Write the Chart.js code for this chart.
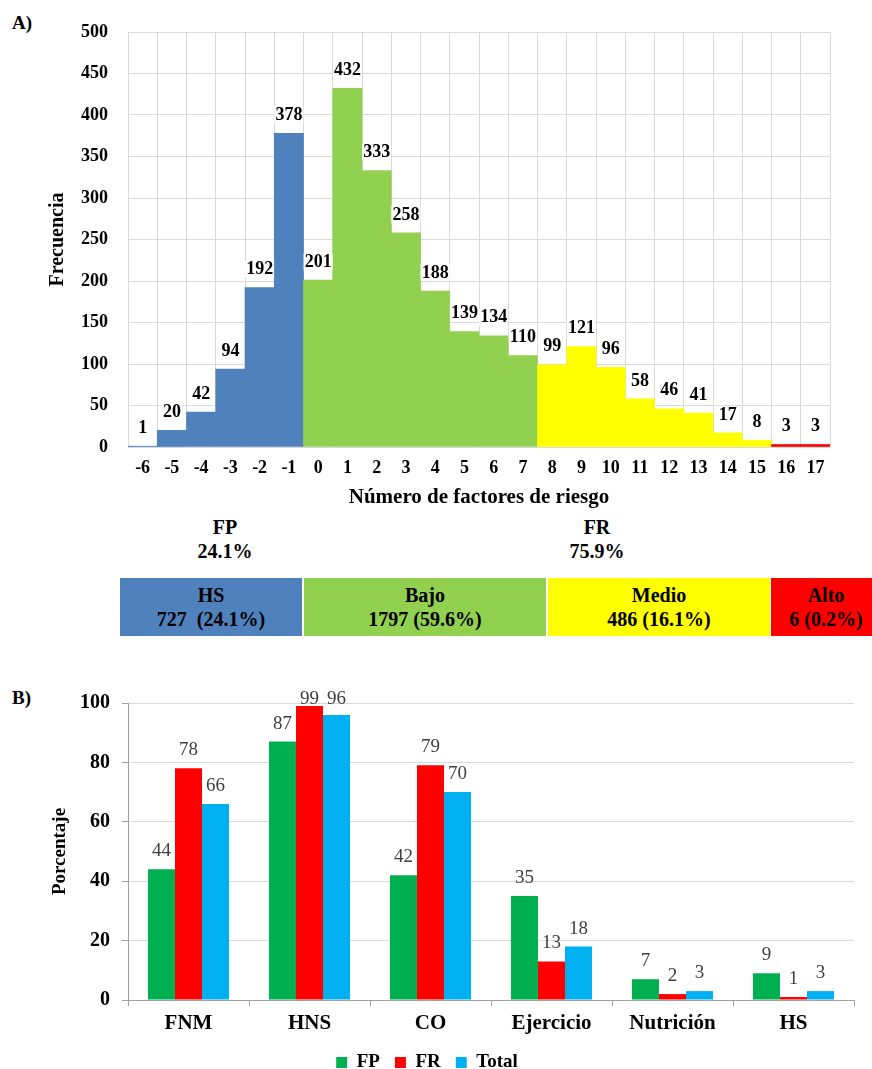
<!DOCTYPE html>
<html lang="es">
<head>
<meta charset="utf-8">
<title>Factores de riesgo</title>
<script src="https://cdn.jsdelivr.net/npm/chart.js@4.4.1/dist/chart.umd.min.js"></script>
<style>
  html, body { margin: 0; padding: 0; background: #fff; }
  #page { position: relative; width: 872px; height: 1069px; overflow: hidden; background: #fff;
          font-family: "Liberation Serif", "Times New Roman", serif; color: #000; }
  .tag { position: absolute; font-weight: bold; font-size: 19px; line-height: 1; }
  canvas { position: absolute; left: 0; }
  .grp { position: absolute; width: 160px; text-align: center; font-weight: bold; font-size: 20px; line-height: 24px; }
  .box { position: absolute; top: 578px; height: 58px; box-sizing: border-box; text-align: center;
         font-weight: bold; font-size: 20px; line-height: 24px; padding-top: 5px; white-space: pre; }
</style>
</head>
<body>
<div id="page">
  <div class="tag" style="left:12px; top:13px;">A)</div>
  <canvas id="histo" width="872" height="510" style="top:0;"></canvas>

  <div class="grp" style="left:145px; top:515px;">FP<br>24.1%</div>
  <div class="grp" style="left:517px; top:515px;">FR<br>75.9%</div>
  <div id="band"></div>

  <div class="tag" style="left:12px; top:688px;">B)</div>
  <canvas id="bars" width="872" height="432" style="top:650px;"></canvas>
</div>

<script>
// Frequency of the number of risk factors (protective factors count negative)
const factors = ['-6','-5','-4','-3','-2','-1','0','1','2','3','4','5','6','7','8','9','10','11','12','13','14','15','16','17'];
const frequency = [1, 20, 42, 94, 192, 378, 201, 432, 333, 258, 188, 139, 134, 110, 99, 121, 96, 58, 46, 41, 17, 8, 3, 3];

// Risk level groups shown in the band under the histogram
const levelNames = ['HS', 'Bajo', 'Medio', 'Alto'];
const levelText = ['727  (24.1%)', '1797 (59.6%)', '486 (16.1%)', '6 (0.2%)'];

// Percentage of each factor by group
const categories = ['FNM', 'HNS', 'CO', 'Ejercicio', 'Nutrición', 'HS'];
const fpValues = [44, 87, 42, 35, 7, 9];
const frValues = [78, 99, 79, 13, 2, 1];
const totalValues = [66, 96, 70, 18, 3, 3];

const SERIF = '"Liberation Serif", "Times New Roman", serif';
const BLUE = '#4F81BD', GREEN = '#92D050', YELLOW = '#FFFF00', RED = '#FF0000';
const levelColors = [BLUE, GREEN, YELLOW, RED];

function levelOf(f) {
  const n = Number(f);
  if (n < 0) return 0;
  if (n <= 7) return 1;
  if (n <= 15) return 2;
  return 3;
}

Chart.defaults.font.family = SERIF;
Chart.defaults.color = '#000';

// Value labels drawn above each bar
function valueLabels(id, opts) {
  return {
    id: id,
    afterDatasetsDraw(chart) {
      const ctx = chart.ctx;
      const area = chart.chartArea;
      ctx.save();
      ctx.font = opts.font;
      ctx.textAlign = 'center';
      ctx.textBaseline = 'middle';
      chart.data.datasets.forEach((ds, di) => {
        const meta = chart.getDatasetMeta(di);
        meta.data.forEach((bar, i) => {
          const text = String(ds.data[i]);
          let cy = bar.y - opts.offset;
          if (opts.minY !== undefined) cy = Math.max(cy, area.top + opts.minY);
          if (opts.background) {
            const w = ctx.measureText(text).width;
            ctx.fillStyle = opts.background;
            ctx.fillRect(bar.x - w / 2 - 1, cy - 9, w + 2, 17);
          }
          ctx.fillStyle = opts.color;
          ctx.fillText(text, bar.x, cy);
        });
      });
      ctx.restore();
    }
  };
}

// A) histogram
new Chart(document.getElementById('histo'), {
  type: 'bar',
  data: {
    labels: factors,
    datasets: [{
      data: frequency,
      backgroundColor: factors.map(f => levelColors[levelOf(f)]),
      borderWidth: 0,
      barPercentage: 1,
      categoryPercentage: 1
    }]
  },
  options: {
    responsive: false,
    animation: false,
    devicePixelRatio: 1,
    layout: { padding: { left: 0, right: 42, top: 32, bottom: 0 } },
    plugins: { legend: { display: false }, tooltip: { enabled: false } },
    scales: {
      x: {
        grid: { color: '#d9d9d9', offset: true, drawTicks: false },
        border: { color: '#d9d9d9' },
        ticks: { font: { size: 18, weight: 'bold' }, color: '#000', padding: 11, maxRotation: 0, autoSkip: false },
        title: { display: true, text: 'Número de factores de riesgo', font: { size: 21, weight: 'bold' }, color: '#000', padding: 0 },
        afterFit(scale) { scale.height = 63; }
      },
      y: {
        min: 0, max: 500,
        grid: { color: '#d9d9d9', drawTicks: false },
        border: { color: '#d9d9d9' },
        ticks: { stepSize: 50, font: { size: 18, weight: 'bold' }, color: '#000', padding: 20 },
        title: { display: true, text: 'Frecuencia', font: { size: 20, weight: 'bold' }, color: '#000', padding: { top: 46, bottom: 0 } },
        afterFit(scale) { scale.width = 128; }
      }
    }
  },
  plugins: [valueLabels('histoLabels', { font: 'bold 18px ' + SERIF, color: '#000', offset: 18, background: '#fff' })]
});

// Band with the size of each risk level
const bandEdges = [[120, 302], [304, 546], [548, 770], [771, 881]];
const band = document.getElementById('band');
levelNames.forEach((name, i) => {
  const d = document.createElement('div');
  d.className = 'box';
  d.style.left = bandEdges[i][0] + 'px';
  d.style.width = (bandEdges[i][1] - bandEdges[i][0]) + 'px';
  d.style.background = levelColors[i];
  d.textContent = name + '\n' + levelText[i];
  band.appendChild(d);
});

// B) percentage by factor and group
new Chart(document.getElementById('bars'), {
  type: 'bar',
  data: {
    labels: categories,
    datasets: [
      { label: 'FP', data: fpValues, backgroundColor: '#00B050', borderWidth: 0 },
      { label: 'FR', data: frValues, backgroundColor: '#FF0000', borderWidth: 0 },
      { label: 'Total', data: totalValues, backgroundColor: '#00B0F0', borderWidth: 0 }
    ]
  },
  options: {
    responsive: false,
    animation: false,
    devicePixelRatio: 1,
    datasets: { bar: { barPercentage: 1, categoryPercentage: 0.67 } },
    layout: { padding: { left: 0, right: 18, top: 53, bottom: 0 } },
    plugins: {
      tooltip: { enabled: false },
      legend: {
        position: 'bottom',
        labels: { boxWidth: 11, boxHeight: 11, padding: 15, color: '#000', font: { size: 19, weight: 'bold' } }
      }
    },
    scales: {
      x: {
        grid: { display: true, drawOnChartArea: false, drawTicks: true, tickLength: 6, color: '#a0a0a0', offset: true },
        border: { color: '#a0a0a0' },
        ticks: { font: { size: 21, weight: 'bold' }, color: '#000', padding: 5, maxRotation: 0, autoSkip: false },
        afterFit(scale) { scale.height = 38; }
      },
      y: {
        min: 0, max: 100,
        grid: { color: '#d9d9d9', tickColor: '#a0a0a0', tickLength: 6 },
        border: { color: '#a0a0a0' },
        ticks: { stepSize: 20, font: { size: 20, weight: 'bold' }, color: '#000', padding: 12 },
        title: { display: true, text: 'Porcentaje', font: { size: 19, weight: 'bold' }, color: '#000', padding: { top: 49, bottom: 0 } },
        afterFit(scale) { scale.width = 128; }
      }
    }
  },
  plugins: [valueLabels('barLabels', { font: '19px ' + SERIF, color: '#404040', offset: 18, minY: -4 })]
});
</script>
</body>
</html>
